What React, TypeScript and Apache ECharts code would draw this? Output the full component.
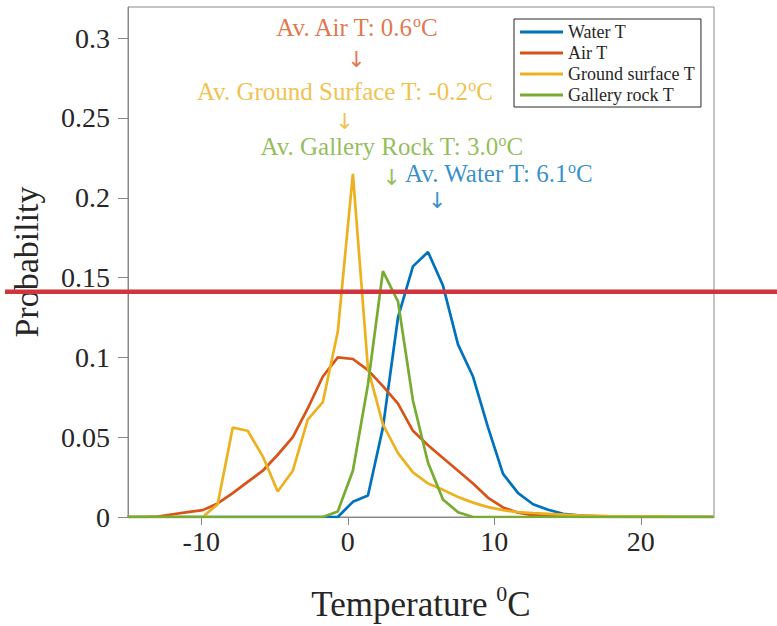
import React, { useEffect, useRef } from 'react';
import * as echarts from 'echarts';

// Bin centres (deg C)
const temps = [-15.03, -14, -12.98, -11.95, -10.93, -9.9, -8.88, -7.85, -6.83, -5.8,
  -4.78, -3.75, -2.73, -1.7, -0.68, 0.35, 1.38, 2.4, 3.43, 4.45,
  5.48, 6.5, 7.53, 8.55, 9.58, 10.6, 11.63, 12.65, 13.68, 14.7,
  15.73, 16.75, 17.78, 18.8, 19.83, 20.85, 21.88, 22.9, 23.93, 24.95];

const waterT = [0, 0, 0, 0, 0, 0, 0, 0, 0, 0,
  0, 0, 0, 0, 0, 0.0095, 0.0135, 0.056, 0.125, 0.157,
  0.166, 0.145, 0.108, 0.088, 0.056, 0.027, 0.015, 0.008, 0.0045, 0.002,
  0.001, 0.0005, 0, 0, 0, 0, 0, 0, 0, 0];

const airT = [0, 0, 0.0003, 0.0017, 0.003, 0.0043, 0.0085, 0.015, 0.022, 0.029,
  0.039, 0.05, 0.068, 0.088, 0.1, 0.099, 0.092, 0.082, 0.071, 0.054,
  0.045, 0.037, 0.029, 0.021, 0.012, 0.006, 0.0027, 0.0012, 0.0006, 0.0003,
  0, 0, 0, 0, 0, 0, 0, 0, 0, 0];

const groundT = [0, 0, 0, 0, 0, 0, 0.008, 0.056, 0.054, 0.038,
  0.016, 0.029, 0.061, 0.072, 0.116, 0.215, 0.093, 0.058, 0.04, 0.028,
  0.021, 0.017, 0.0125, 0.009, 0.0062, 0.0043, 0.0031, 0.0025, 0.002, 0.0015,
  0.001, 0.0008, 0.0005, 0.0004, 0.0003, 0.0004, 0.0002, 0.0001, 0, 0];

const galleryT = [0, 0, 0, 0, 0, 0, 0, 0, 0, 0,
  0, 0, 0, 0, 0.0035, 0.029, 0.083, 0.154, 0.135, 0.073,
  0.034, 0.011, 0.003, 0, 0, 0, 0, 0, 0, 0,
  0, 0, 0, 0, 0, 0, 0, 0, 0, 0];

const seriesNames = ['Water T', 'Air T', 'Ground surface T', 'Gallery rock T'];
const seriesColors = ['#0072BD', '#D95319', '#EDB120', '#77AC30'];

const xTicks = [-10, 0, 10, 20];
const yTicks = [0, 0.05, 0.1, 0.15, 0.2, 0.25, 0.3];

// Average annotations (order: Air, Ground, Gallery, Water)
const avgNames = ['Air', 'Ground Surface', 'Gallery Rock', 'Water'];
const avgTemps = [0.6, -0.2, 3.0, 6.1];
const avgColors = ['#D95319', '#EDB120', '#77AC30', '#0072BD'];
const avgTextX = [0.6, -0.2, 3.0, 10.3];
const avgTextY = [0.3064, 0.2663, 0.2318, 0.2149];
const avgArrowY = [0.2863, 0.2475, 0.2127, 0.198];

const FONT = 'Liberation Serif';
const AXIS_COLOR = '#888888';
const TEXT_COLOR = '#262626';

export default function App() {
  const ref = useRef<HTMLDivElement>(null);
  useEffect(() => {
    const chart = echarts.init(ref.current!, null, { renderer: 'svg' });
    const allValues = [waterT, airT, groundT, galleryT];
    const lineSeries = allValues.map((vals, si) => ({
      type: 'line',
      name: seriesNames[si],
      data: temps.map((x, i) => [x, vals[i]]),
      symbol: 'none',
      showSymbol: false,
      color: seriesColors[si],
      itemStyle: { color: seriesColors[si] },
      lineStyle: { width: 2.7, color: seriesColors[si] },
      z: 2 + si * 0.01,
    }));

    const option: any = {
      animation: false,
      grid: {
        left: 128, right: 63, top: 7, bottom: 109,
        show: true, borderColor: AXIS_COLOR, borderWidth: 1,
        containLabel: false, outerBoundsMode: 'none',
      },
      legend: {
        data: seriesNames,
        orient: 'vertical',
        left: 514, top: 19,
        icon: 'rect',
        itemWidth: 43, itemHeight: 3, itemGap: 3,
        padding: [4, 6, 3, 6],
        borderColor: '#262626', borderWidth: 1,
        backgroundColor: '#ffffff',
        textStyle: { fontFamily: FONT, fontSize: 18, color: TEXT_COLOR },
      },
      xAxis: {
        type: 'value', min: -15, max: 25,
        name: '{t|Temperature }{s|0}{t|C}',
        nameLocation: 'middle', nameGap: 70,
        nameTextStyle: {
          color: TEXT_COLOR, fontFamily: FONT, fontSize: 35,
          rich: {
            t: { fontFamily: FONT, fontSize: 35, lineHeight: 35, color: TEXT_COLOR },
            s: { fontFamily: FONT, fontSize: 22, height: 12, lineHeight: 12, verticalAlign: 'top', color: TEXT_COLOR },
          },
        },
        axisLine: { show: true, onZero: false, lineStyle: { color: AXIS_COLOR, width: 1 } },
        axisTick: { show: true, inside: false, length: 8, customValues: xTicks, lineStyle: { color: AXIS_COLOR } },
        axisLabel: { customValues: xTicks, fontFamily: FONT, fontSize: 28, color: TEXT_COLOR, margin: 10 },
        splitLine: { show: false },
      },
      yAxis: {
        type: 'value', min: 0, max: 0.3195,
        name: 'Probability',
        nameLocation: 'middle', nameGap: 85,
        nameTextStyle: { color: TEXT_COLOR, fontFamily: FONT, fontSize: 34 },
        axisLine: { show: true, onZero: false, lineStyle: { color: AXIS_COLOR, width: 1 } },
        axisTick: { show: true, inside: false, length: 10, customValues: yTicks, lineStyle: { color: AXIS_COLOR } },
        axisLabel: { customValues: yTicks, fontFamily: FONT, fontSize: 28, color: TEXT_COLOR, margin: 18 },
        splitLine: { show: false },
      },
      series: [
        ...lineSeries,
        {
          type: 'scatter', name: 'avgText', symbolSize: 0, silent: true, z: 5,
          data: avgTemps.map((t, i) => ({
            value: [avgTextX[i], avgTextY[i]],
            label: { color: avgColors[i] },
          })),
          label: {
            show: true, position: 'inside',
            formatter: (p: any) =>
              `{a|Av. ${avgNames[p.dataIndex]} T: ${avgTemps[p.dataIndex].toFixed(1)}}{s|o}{a|C}`,
            rich: {
              a: { fontFamily: FONT, fontSize: 25, lineHeight: 22 },
              s: { fontFamily: FONT, fontSize: 16, height: 10, lineHeight: 10, verticalAlign: 'top' },
            },
          },
        },
        {
          type: 'scatter', name: 'avgArrow', symbolSize: 0, silent: true, z: 5,
          data: avgTemps.map((t, i) => ({
            value: [t, avgArrowY[i]],
            label: { color: avgColors[i] },
          })),
          label: {
            show: true, position: 'inside', formatter: '\u2193',
            fontFamily: 'DejaVu Sans', fontSize: 22,
          },
        },
      ],
      graphic: {
        elements: [
          {
            type: 'rect', z: 100, silent: true,
            shape: { x: 5, y: 289.5, width: 772, height: 4.5 },
            style: { fill: '#d0343c' },
          },
        ],
      },
    };
    chart.setOption(option);
    return () => chart.dispose();
  }, []);
  return (
    <div
      ref={ref}
      style={{ position: 'fixed', left: 0, top: 0, width: 777, height: 626, background: '#fff' }}
    />
  );
}
